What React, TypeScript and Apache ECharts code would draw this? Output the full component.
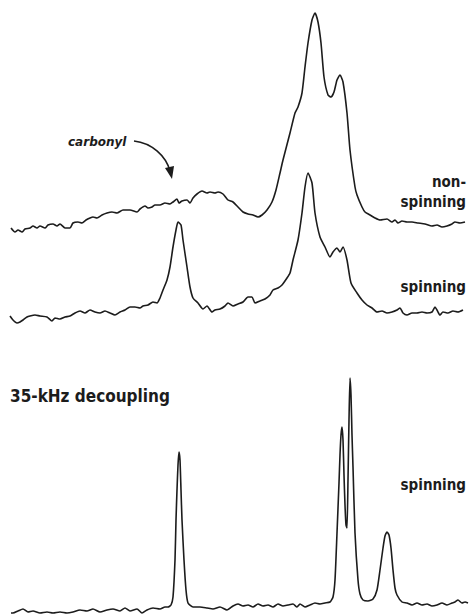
import React, { useEffect, useRef } from "react";
import * as echarts from "echarts";

// Horizontal position along the spectrum (chart units) paired with the
// signal intensity above each trace's own baseline.
const nonSpinning: [number, number][] = [
  [11, 0], [15, -4], [18, -2], [22, -4], [25, -1], [30, 0], [33, 2], [37, 0], [40, 2], [45, 0],
  [48, 3], [53, 4], [57, 2], [60, 4], [65, 0], [70, 0], [73, 5], [78, 6], [82, 5], [86, 8],
  [90, 10], [93, 11], [97, 10], [102, 13], [107, 15], [112, 16], [117, 15], [123, 18], [130, 18], [137, 16],
  [140, 19], [145, 22], [148, 20], [152, 21], [155, 23], [160, 23], [165, 25], [170, 24], [173, 26], [177, 29],
  [179, 25], [182, 27], [187, 28], [190, 25], [193, 30], [197, 34], [202, 37], [207, 35], [210, 36], [215, 35],
  [218, 36], [223, 34], [228, 28], [233, 26], [238, 21], [243, 16], [248, 14], [253, 13], [258, 11], [262, 13],
  [267, 18], [272, 26], [276, 38], [280, 55], [283, 68], [290, 95], [295, 115], [298, 121], [302, 135], [305, 161],
  [308, 185], [312, 208], [315, 215], [318, 206], [321, 185], [324, 151], [328, 133], [331, 131], [334, 136], [337, 148],
  [340, 153], [343, 146], [347, 115], [350, 78], [355, 41], [357, 33], [362, 21], [365, 16], [370, 13], [375, 10],
  [380, 8], [387, 9], [392, 6], [395, 8], [398, 5], [402, 7], [407, 6], [412, 6], [418, 5], [425, 4],
  [432, 2], [437, 3], [442, 1], [447, 2], [452, 4], [455, 6], [460, 5], [465, 6],
];

const spinning: [number, number][] = [
  [10, 0], [13, -4], [17, -7], [20, -6], [23, -4], [27, -1], [30, 0], [35, 1], [40, 0], [47, -1],
  [52, -5], [55, -2], [60, -3], [65, -1], [70, 0], [75, 3], [80, 5], [85, 3], [90, 6], [95, 4],
  [100, 3], [105, 5], [110, 3], [115, 1], [120, 4], [125, 6], [130, 9], [135, 9], [140, 8], [143, 10],
  [148, 11], [153, 14], [157, 13], [160, 18], [163, 26], [167, 36], [170, 49], [173, 69], [176, 86], [178, 94],
  [181, 91], [183, 76], [187, 49], [190, 29], [193, 18], [198, 13], [203, 7], [207, 10], [212, 4], [215, 6],
  [220, 7], [225, 10], [228, 13], [233, 10], [238, 12], [243, 14], [248, 19], [252, 19], [255, 13], [260, 15],
  [265, 17], [270, 21], [273, 26], [278, 28], [282, 31], [287, 38], [290, 43], [293, 56], [298, 76], [302, 103],
  [305, 129], [308, 143], [312, 133], [315, 103], [320, 79], [325, 69], [330, 59], [333, 64], [337, 68], [340, 64],
  [343, 69], [347, 56], [351, 33], [357, 23], [362, 16], [367, 11], [372, 8], [377, 4], [382, 5], [387, 3],
  [392, 4], [397, 6], [400, 8], [403, 3], [407, 1], [412, 3], [417, 3], [422, 4], [427, 3], [432, 4],
  [435, 9], [437, 6], [440, 1], [443, 4], [448, 3], [453, 5], [458, 4], [463, 6],
];

const decoupled: [number, number][] = [
  [11, -3], [13, -3], [18, -1], [23, 1], [28, -2], [33, -1], [40, -3], [47, -2], [53, -3], [60, -2],
  [67, -3], [73, -2], [80, 0], [87, -1], [93, 1], [100, -2], [107, 0], [113, 1], [120, -1], [125, 2],
  [130, -1], [137, 1], [142, -3], [147, 0], [153, 2], [160, 1], [165, 3], [168, 3], [171, 5], [173, 13],
  [175, 50], [176, 90], [177, 120], [178, 145], [179, 158], [180, 150], [181, 120], [182, 90], [184, 50], [186, 20],
  [188, 7], [193, 3], [200, 3], [207, 2], [213, 1], [220, 3], [227, 0], [233, 4], [238, 6], [243, 4],
  [248, 5], [253, 3], [258, 6], [263, 4], [268, 5], [273, 3], [278, 6], [283, 4], [288, 5], [293, 6],
  [297, 3], [300, 6], [305, 3], [310, 5], [315, 7], [320, 6], [325, 7], [330, 8], [333, 13], [335, 30],
  [337, 77], [339, 127], [340, 155], [341, 175], [342, 183], [343, 170], [344, 135], [345, 105], [346, 85], [347, 82],
  [348, 130], [349, 190], [350, 232], [351, 215], [352, 175], [353, 143], [355, 77], [358, 30], [360, 16], [363, 10],
  [368, 9], [373, 11], [377, 20], [380, 40], [383, 62], [385, 74], [387, 78], [389, 75], [391, 62], [393, 40],
  [395, 22], [397, 15], [402, 8], [407, 7], [412, 5], [417, 7], [422, 5], [427, 6], [432, 4], [437, 5],
  [442, 7], [447, 5], [452, 7], [455, 8], [458, 10], [462, 7], [465, 8], [468, 7],
];

// Vertical stacking offsets of the three traces.
const traceOffsets = [386, 298, 4];
const traceNames = ["non-spinning", "spinning", "35-kHz decoupling, spinning"];

const INK = "#1c1c1c";
const LABEL_FONT = "'DejaVu Sans Condensed', 'DejaVu Sans', sans-serif";

export default function App() {
  const ref = useRef<HTMLDivElement>(null);

  useEffect(() => {
    if (!ref.current) return;
    const chart = echarts.init(ref.current, undefined, { renderer: "svg" });

    const traces = [nonSpinning, spinning, decoupled];
    const series = traces.map((pts, i) => ({
      name: traceNames[i],
      type: "line" as const,
      data: pts.map(([x, v]) => [x, traceOffsets[i] + v]),
      showSymbol: false,
      smooth: 0.2,
      lineStyle: { color: INK, width: 1.6, join: "round" as const },
      silent: true,
    }));

    const label = (text: string, x: number, y: number, size: number, align: "left" | "right") => ({
      type: "text" as const,
      x,
      y,
      style: {
        text,
        fill: INK,
        font: `bold ${size}px ${LABEL_FONT}`,
        align,
        verticalAlign: "middle",
      },
    });

    chart.setOption({
      animation: false,
      backgroundColor: "#ffffff",
      grid: { left: 0, right: 0, top: 0, bottom: 0 },
      xAxis: { type: "value", min: 0, max: 469, show: false },
      yAxis: { type: "value", min: 0, max: 614, show: false },
      series,
      graphic: [
        {
          type: "text",
          x: 68,
          y: 142,
          style: {
            text: "carbonyl",
            fill: INK,
            font: "italic bold 12px 'DejaVu Sans', sans-serif",
            align: "left",
            verticalAlign: "middle",
          },
        },
        {
          type: "bezierCurve",
          shape: { x1: 134, y1: 141, cpx1: 152, cpy1: 143, cpx2: 166, cpy2: 156, x2: 170, y2: 171 },
          style: { stroke: INK, lineWidth: 1.6, fill: "none" },
        },
        {
          type: "polygon",
          shape: { points: [[165, 168], [174, 166], [172, 179]] },
          style: { fill: INK },
        },
        label("non-", 466, 182, 15, "right"),
        label("spinning", 466, 202, 15, "right"),
        label("spinning", 466, 287, 15, "right"),
        label("35-kHz decoupling", 10, 396, 17, "left"),
        label("spinning", 466, 485, 15, "right"),
      ],
    });

    return () => chart.dispose();
  }, []);

  return (
    <div
      ref={ref}
      style={{ position: "absolute", left: 0, top: 0, width: 469, height: 614, background: "#fff" }}
    />
  );
}
